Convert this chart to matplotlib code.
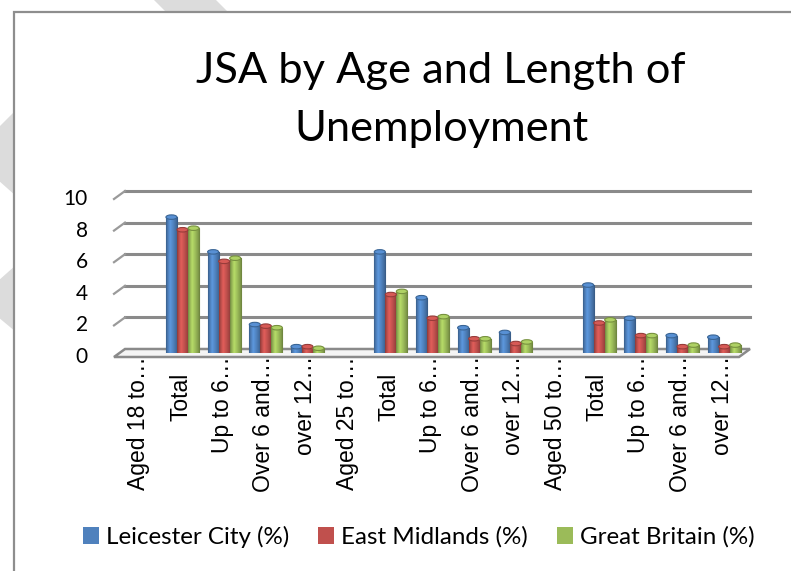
import numpy as np
import matplotlib
matplotlib.use("Agg")
import matplotlib.pyplot as plt
from matplotlib.patches import Rectangle, Polygon, Ellipse
from matplotlib.lines import Line2D
from matplotlib.transforms import IdentityTransform, offset_copy
from matplotlib.colors import to_rgb

# ---- data -------------------------------------------------------------
categories = ["Aged 18 to…", "Total", "Up to 6…", "Over 6 and…", "over 12…",
              "Aged 25 to…", "Total", "Up to 6…", "Over 6 and…", "over 12…",
              "Aged 50 to…", "Total", "Up to 6…", "Over 6 and…", "over 12…"]
series_names = ["Leicester City (%)", "East Midlands (%)", "Great Britain (%)"]
leicester = [np.nan, 8.6, 6.4, 1.8, 0.4, np.nan, 6.4, 3.5, 1.6, 1.3, np.nan, 4.3, 2.2, 1.1, 1.0]
east_midlands = [np.nan, 7.8, 5.8, 1.7, 0.4, np.nan, 3.7, 2.2, 0.9, 0.6, np.nan, 1.9, 1.1, 0.4, 0.4]
great_britain = [np.nan, 7.9, 6.0, 1.6, 0.3, np.nan, 3.9, 2.3, 0.9, 0.7, np.nan, 2.1, 1.1, 0.5, 0.5]
yticks = [0, 2, 4, 6, 8, 10]
title = "JSA by Age and Length of\nUnemployment"

colors = ["#4F81BD", "#C0504D", "#9BBB59"]
edge_colors = ["#3A6595", "#973C3A", "#77913F"]

W, H, DPI = 791, 571, 100
fig = plt.figure(figsize=(W / DPI, H / DPI), dpi=DPI)
fig.patch.set_facecolor("white")


def fpx(x, y):
    """pixel position (from top-left) -> figure fraction"""
    return x / W, 1 - y / H


# faint arrow shapes behind the chart frame
for pts in ([(152, -2), (214, -2), (232, 16), (170, 16)],
            [(-2, 128), (16, 110), (16, 196), (-2, 180)],
            [(-2, 281), (16, 265), (16, 332), (-2, 317)]):
    fig.patches.append(Polygon([fpx(*p) for p in pts], closed=True,
                               transform=fig.transFigure, facecolor="#dcdcdc",
                               edgecolor="none", zorder=-3))

# chart frame
x0, y0 = fpx(14, 12)
fig.patches.append(Rectangle((x0, -0.05), 1.1, y0 + 0.05, transform=fig.transFigure,
                             facecolor="white", edgecolor="#8e8e8e", lw=1.6,
                             zorder=-2))

# plotting plane (middle depth of the 3-D box)
left_px, right_px, base_px, top_px = 120, 745, 353, 195
ax = fig.add_axes([left_px / W, 1 - base_px / H, (right_px - left_px) / W,
                   (base_px - top_px) / H])
ax.set_zorder(1)
ax.patch.set_visible(False)
for s in ax.spines.values():
    s.set_visible(False)
n = len(categories)
xs = np.arange(n)
ax.set_xlim(-0.5, n - 0.5)
ax.set_ylim(0, 10)
ax.set_xticks([])
ax.set_yticks([])

BACK = np.array([5.0, 4.0])     # display offset (px) of the back wall
FRONT = np.array([-6.0, -4.0])  # display offset (px) of the front edge


def disp(x, y, off):
    return ax.transData.transform((x, y)) + off


fig.canvas.draw()

# back-wall gridlines with their slanted side stubs
for v in yticks:
    if v == 0:
        continue
    a = disp(-0.5, v, BACK)
    b = disp(n - 0.5, v, BACK)
    f = disp(-0.5, v, FRONT)
    ax.add_line(Line2D([a[0], b[0]], [a[1], b[1]], transform=IdentityTransform(),
                       color="#8a8a8a", lw=2.2, zorder=1, clip_on=False))
    ax.add_line(Line2D([f[0], a[0]], [f[1], a[1]], transform=IdentityTransform(),
                       color="#9a9a9a", lw=1.6, zorder=1, clip_on=False))

# floor
floor = [disp(-0.5, 0, BACK), disp(n - 0.5, 0, BACK),
         disp(n - 0.5, 0, FRONT), disp(-0.5, 0, FRONT)]
ax.add_patch(Polygon(floor, closed=True, transform=IdentityTransform(),
                     facecolor="#f4f4f4", edgecolor="#8a8a8a", lw=1.8,
                     zorder=1.5, clip_on=False))

# y tick labels sit on the front edge
for v in yticks:
    p = disp(-0.5, v, FRONT)
    fig.text(88 / W, p[1] / H, str(v), ha="right", va="center",
             fontsize=15, family="Lato", color="black")

# category labels: truncated labels let their ellipsis run up toward the floor
for i, lab in enumerate(categories):
    drop = 3 if lab.endswith("…") else 20
    tr = offset_copy(ax.get_xaxis_transform(), fig=fig, x=-2, y=-drop, units="dots")
    ax.text(i, 0, lab, transform=tr, rotation=90, ha="center", va="top",
            fontsize=16.5, family="Liberation Sans", color="black", clip_on=False)

# cylinder-like shaded bars
bw = 0.265
offsets = (np.arange(3) - 1) * bw
t = np.linspace(0, 1, 64)
shade = np.interp(t, [0, 0.12, 0.35, 0.6, 0.88, 1], [0.72, 0.92, 1.18, 1.02, 0.82, 0.68])
px_per_y = (ax.transData.transform((0, 1)) - ax.transData.transform((0, 0)))[1]
cap_h = 4.5 / px_per_y
handles = []
for k, vals in enumerate([leicester, east_midlands, great_britain]):
    base = np.array(to_rgb(colors[k]))
    grad = np.clip(base[None, :] * shade[:, None], 0, 1)[None, :, :]
    bars = ax.bar(xs + offsets[k], vals, width=bw, color=colors[k],
                  edgecolor=edge_colors[k], lw=0.8, zorder=3)
    handles.append(Rectangle((0, 0), 1, 1, facecolor=colors[k], edgecolor="none"))
    for bar, v in zip(bars, vals):
        if np.isnan(v):
            continue
        bx, bwid, bh = bar.get_x(), bar.get_width(), bar.get_height()
        im = ax.imshow(grad, extent=(bx, bx + bwid, 0, bh), aspect="auto",
                       interpolation="bilinear", zorder=3.1)
        im.set_clip_path(bar)
        cap = Ellipse((bx + bwid / 2, bh), bwid, cap_h,
                      facecolor=np.clip(base * 1.12, 0, 1),
                      edgecolor=edge_colors[k], lw=0.8, zorder=3.2, clip_on=False)
        ax.add_patch(cap)
ax.set_xlim(-0.5, n - 0.5)
ax.set_ylim(0, 10)
ax.set_aspect("auto")

# title
tx, ty = fpx(441, 100)
fig.text(tx, ty, title, ha="center", va="center", fontsize=31.2, family="Lato",
         linespacing=1.65, color="black")

# legend
lx, ly = fpx(419, 537)
fig.legend(handles, series_names, loc="center", bbox_to_anchor=(lx, ly), ncol=3,
           frameon=False, prop={"family": "Lato", "size": 17.4}, handlelength=0.65,
           handleheight=0.65, handletextpad=0.3, columnspacing=1.2)

fig.savefig("out.png", dpi=DPI)
